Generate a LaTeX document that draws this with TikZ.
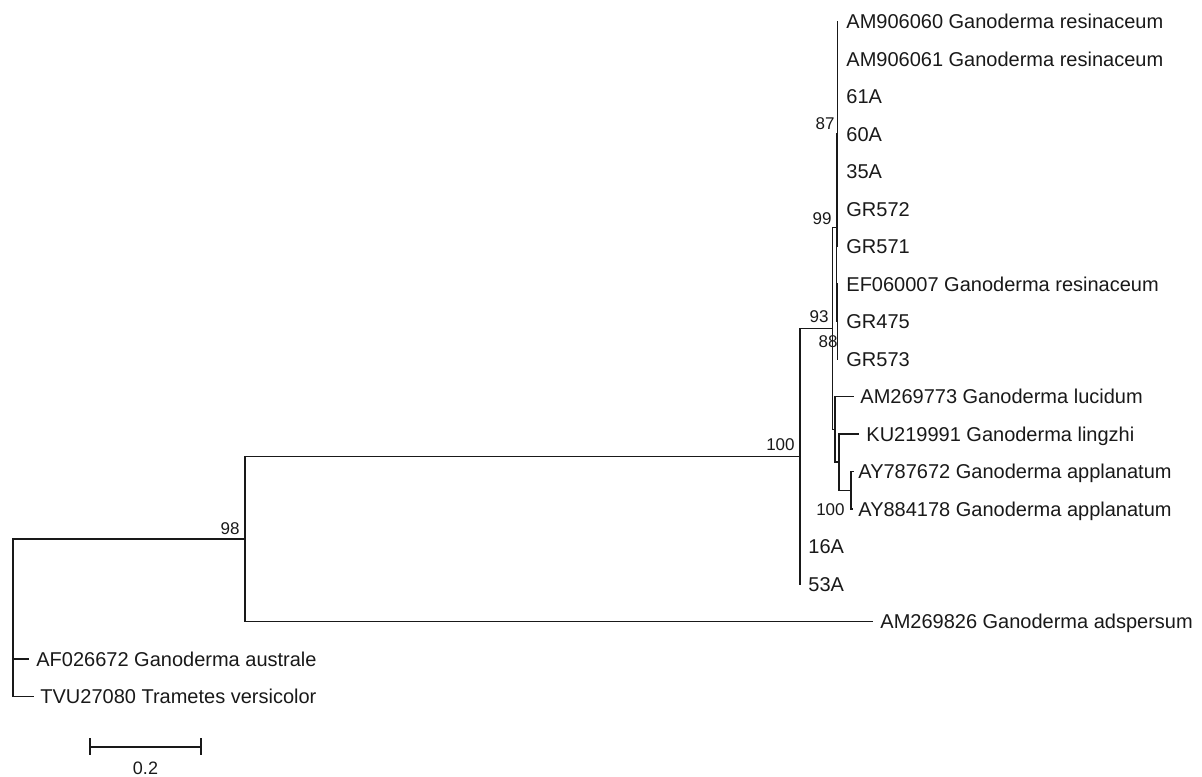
\documentclass[tikz,border=0pt]{standalone}
\usepackage{fontspec}
\setmainfont{Liberation Sans}
\begin{document}
\begin{tikzpicture}[x=0.5pt,y=-0.5pt,
  br/.style={line width=0.7pt, draw=black!90, line cap=rect},
  taxon/.style={anchor=base west, inner sep=0pt, font=\fontsize{10}{12}\selectfont, text=black!90},
  boot/.style={anchor=base east, inner sep=0pt, font=\fontsize{8.5}{10}\selectfont, text=black!90}]
\useasboundingbox (0,0) rectangle (1202,776);
% internal nodes
\coordinate (n87) at (837.5,134);
\coordinate (n88) at (837.5,321.5);
\coordinate (n99) at (836.5,227.75);
\coordinate (nC) at (851,490.25);
\coordinate (nB) at (839,462.125);
\coordinate (nA) at (835,429.31);
\coordinate (n93) at (832.5,328.53);
\coordinate (n100) at (800,456.27);
\coordinate (n98) at (245,538.88);
\coordinate (root) at (13,617.69);
% leaf ends
\coordinate (l0) at (837.5,21.5);
\coordinate (l1) at (837.5,59);
\coordinate (l2) at (837.5,96.5);
\coordinate (l3) at (837.5,134);
\coordinate (l4) at (837.5,171.5);
\coordinate (l5) at (837.5,209);
\coordinate (l6) at (837.5,246.5);
\coordinate (l7) at (837.5,284);
\coordinate (l8) at (837.5,321.5);
\coordinate (l9) at (837.5,359);
\coordinate (l10) at (853,396.5);
\coordinate (l11) at (858,434);
\coordinate (l12) at (853,471.5);
\coordinate (l13) at (852.5,509);
\coordinate (l14) at (800,546.5);
\coordinate (l15) at (800,584);
\coordinate (l16) at (872,621.5);
\coordinate (l17) at (28,659);
\coordinate (l18) at (33,696.5);
% branches
\draw[br] (n87) |- (l0); \draw[br] (n87) |- (l6);
\draw[br] (n88) |- (l7); \draw[br] (n88) |- (l9);
\draw[br] (n99) |- (n87); \draw[br] (n99) |- (n88);
\draw[br] (nC) |- (l12); \draw[br] (nC) |- (l13);
\draw[br] (nB) |- (l11); \draw[br] (nB) |- (nC);
\draw[br] (nA) |- (l10); \draw[br] (nA) |- (nB);
\draw[br] (n93) |- (n99); \draw[br] (n93) |- (nA);
\draw[br] (n100) |- (n93); \draw[br] (n100) |- (l15);
\draw[br] (n98) |- (n100); \draw[br] (n98) |- (l16);
\draw[br] (root) |- (n98); \draw[br] (root) |- (l17); \draw[br] (root) |- (l18);
% taxon labels
\node[taxon] (t0) at ([xshift=4.25pt,yshift=-3.6pt]l0) {AM906060 Ganoderma resinaceum};
\node[taxon] (t1) at ([xshift=4.25pt,yshift=-3.6pt]l1) {AM906061 Ganoderma resinaceum};
\node[taxon] (t2) at ([xshift=4.25pt,yshift=-3.6pt]l2) {61A};
\node[taxon] (t3) at ([xshift=4.25pt,yshift=-3.6pt]l3) {60A};
\node[taxon] (t4) at ([xshift=4.25pt,yshift=-3.6pt]l4) {35A};
\node[taxon] (t5) at ([xshift=4.25pt,yshift=-3.6pt]l5) {GR572};
\node[taxon] (t6) at ([xshift=4.25pt,yshift=-3.6pt]l6) {GR571};
\node[taxon] (t7) at ([xshift=4.25pt,yshift=-3.6pt]l7) {EF060007 Ganoderma resinaceum};
\node[taxon] (t8) at ([xshift=4.25pt,yshift=-3.6pt]l8) {GR475};
\node[taxon] (t9) at ([xshift=4.25pt,yshift=-3.6pt]l9) {GR573};
\node[taxon] (t10) at ([xshift=3.5pt,yshift=-3.6pt]l10) {AM269773 Ganoderma lucidum};
\node[taxon] (t11) at ([xshift=4pt,yshift=-3.6pt]l11) {KU219991 Ganoderma lingzhi};
\node[taxon] (t12) at ([xshift=2.5pt,yshift=-3.6pt]l12) {AY787672 Ganoderma applanatum};
\node[taxon] (t13) at ([xshift=2.75pt,yshift=-3.6pt]l13) {AY884178 Ganoderma applanatum};
\node[taxon] (t14) at ([xshift=4pt,yshift=-3.6pt]l14) {16A};
\node[taxon] (t15) at ([xshift=4pt,yshift=-3.6pt]l15) {53A};
\node[taxon] (t16) at ([xshift=4pt,yshift=-3.6pt]l16) {AM269826 Ganoderma adspersum};
\node[taxon] (t17) at ([xshift=4pt,yshift=-3.6pt]l17) {AF026672 Ganoderma australe};
\node[taxon] (t18) at ([xshift=3.5pt,yshift=-3.6pt]l18) {TVU27080 Trametes versicolor};
% bootstrap values
\node[boot] (b87) at (835,129) {87};
\node[boot] (b99) at (832,224) {99};
\node[boot] (b93) at (829,322) {93};
\node[boot] (b88) at (838,347) {88};
\node[boot] (b100a) at (795,450) {100};
\node[boot] (b100b) at (845,515) {100};
\node[boot] (b98) at (240,534) {98};
% scale bar
\coordinate (s1) at (90,747);
\coordinate (s2) at (201,747);
\draw[br] (s1) -- (s2);
\draw[br] ([yshift=-3.5pt]s1) -- ([yshift=4pt]s1);
\draw[br] ([yshift=-3.5pt]s2) -- ([yshift=4pt]s2);
\node[inner sep=0pt, anchor=base, font=\fontsize{9}{10}\selectfont, text=black!90] (sl) at (145.5,774) {0.2};
\end{tikzpicture}
\end{document}
